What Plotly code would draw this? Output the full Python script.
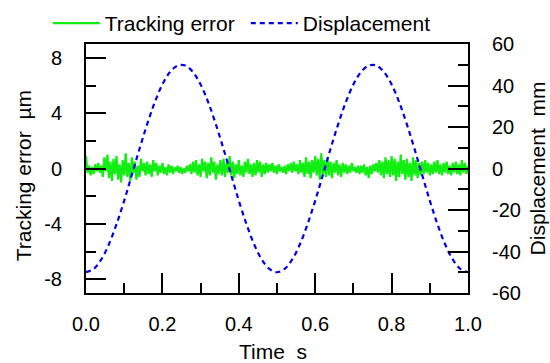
import plotly.graph_objects as go

# Time axis (s) for displacement curve
t_disp = [0.00, 0.02, 0.04, 0.06, 0.08, 0.10, 0.12, 0.14, 0.16, 0.18,
          0.20, 0.22, 0.24, 0.26, 0.28, 0.30, 0.32, 0.34, 0.36, 0.38,
          0.40, 0.42, 0.44, 0.46, 0.48, 0.50, 0.52, 0.54, 0.56, 0.58,
          0.60, 0.62, 0.64, 0.66, 0.68, 0.70, 0.72, 0.74, 0.76, 0.78,
          0.80, 0.82, 0.84, 0.86, 0.88, 0.90, 0.92, 0.94, 0.96, 0.98, 1.00]
# Displacement (mm)
displacement = [-50.0, -48.4, -43.8, -36.5, -26.8, -15.5, -3.1, 9.4, 21.3, 31.9,
                40.5, 46.5, 49.6, 49.6, 46.5, 40.5, 31.9, 21.3, 9.4, -3.1,
                -15.5, -26.8, -36.5, -43.8, -48.4, -50.0, -48.4, -43.8, -36.5, -26.8,
                -15.5, -3.1, 9.4, 21.3, 31.9, 40.5, 46.5, 49.6, 49.6, 46.5,
                40.5, 31.9, 21.3, 9.4, -3.1, -15.5, -26.8, -36.5, -43.8, -48.4, -50.0]

# Tracking error (um), read every 0.004 s
tracking_error = [
    0.9, -0.3, 0.2, -0.5, 0.1, -0.4, 0.3, -0.2, 0.4, -0.3,
    0.2, -0.6, 0.8, -0.2, 1.0, -0.7, 0.5, -0.9, 0.7, -0.4,
    0.9, -0.8, 0.3, -1.0, 0.6, -0.5, 1.1, -0.6, 0.4, -0.9,
    0.8, -0.3, 0.5, -0.8, 0.2, -0.6, 0.7, -0.2, 0.4, -0.5,
    0.5, -0.4, 0.3, -0.6, 0.6, -0.2, 0.4, -0.5, 0.2, -0.3,
    0.4, -0.4, 0.1, -0.5, 0.3, -0.3, 0.2, -0.4, 0.1, -0.2,
    0.2, -0.3, 0.1, -0.4, 0.0, -0.3, 0.2, -0.2, 0.3, -0.4,
    0.5, -0.3, 0.6, -0.5, 0.3, -0.6, 0.7, -0.2, 0.5, -0.7,
    0.4, -0.5, 0.8, -0.3, 0.5, -0.8, 0.3, -0.4, 0.6, -0.5,
    0.7, -0.6, 0.4, -0.3, 0.9, -0.5, 0.5, -0.7, 0.3, -0.4,
    0.6, -0.5, 0.2, -0.6, 0.5, -0.3, 0.7, -0.4, 0.3, -0.6,
    0.4, -0.5, 0.6, -0.3, 0.5, -0.6, 0.3, -0.4, 0.4, -0.3,
    0.3, -0.2, 0.4, -0.3, 0.2, -0.4, 0.3, -0.2, 0.1, -0.3,
    0.2, -0.4, 0.3, -0.2, 0.4, -0.3, 0.5, -0.2, 0.3, -0.4,
    0.6, -0.3, 0.4, -0.6, 0.8, -0.4, 0.5, -0.7, 0.6, -0.3,
    0.9, -0.5, 0.7, -0.8, 1.1, -0.4, 0.6, -0.6, 0.8, -0.5,
    0.5, -0.7, 0.4, -0.3, 0.6, -0.5, 0.3, -0.6, 0.4, -0.3,
    0.3, -0.4, 0.2, -0.3, 0.4, -0.2, 0.1, -0.3, 0.2, -0.4,
    0.2, -0.3, 0.3, -0.5, 0.1, -0.7, 0.2, -0.4, 0.3, -0.2,
    0.4, -0.3, 0.6, -0.5, 0.5, -0.7, 0.8, -0.4, 0.6, -0.6,
    0.9, -0.5, 0.7, -0.9, 0.5, -0.6, 1.0, -0.4, 0.6, -0.8,
    0.7, -0.6, 0.4, -0.9, 0.8, -0.5, 0.6, -0.7, 0.4, -0.5,
    0.5, -0.4, 0.6, -0.3, 0.4, -0.5, 0.3, -0.4, 0.5, -0.3,
    0.6, -0.4, 0.3, -0.5, 0.4, -0.3, 0.5, -0.4, 0.2, -0.5,
    0.4, -0.3, 0.5, -0.4, 0.3, -0.5, 0.6, -0.3, 0.4, -0.4,
    0.2]
t_err = [i * 0.004 for i in range(len(tracking_error))]

x_ticks = [0.0, 0.2, 0.4, 0.6, 0.8, 1.0]
x_ticklabels = ["0.0", "0.2", "0.4", "0.6", "0.8", "1.0"]
y1_ticks = [-8, -4, 0, 4, 8]
y1_ticklabels = ["-8", "-4", "0", "4", "8"]
y2_ticks = [-60, -40, -20, 0, 20, 40, 60]
y2_ticklabels = ["-60", "-40", "-20", "0", "20", "40", "60"]

x_title = "Time\u00a0 s"
y1_title = "Tracking error\u00a0 µm"
y2_title = "Displacement\u00a0 mm"

FONT = "Liberation Sans, Arial, sans-serif"

fig = go.Figure()
fig.add_trace(go.Scatter(x=t_err, y=tracking_error, mode="lines", name="Tracking error",
                         line=dict(color="#11ee11", width=2.2), yaxis="y"))
fig.add_trace(go.Scatter(x=t_disp, y=displacement, mode="lines", name="Displacement",
                         line=dict(color="#0000ee", width=2.2, dash="5px,4px", shape="spline"),
                         yaxis="y2"))

axis_common = dict(showline=True, linecolor="black", linewidth=2, ticks="inside",
                   tickcolor="black", tickwidth=2, ticklen=20, showgrid=False, zeroline=False,
                   tickfont=dict(family=FONT, size=20, color="black"))

fig.update_layout(
    width=550, height=363,
    margin=dict(l=86, r=82, t=44, b=70, autoexpand=False),
    paper_bgcolor="white", plot_bgcolor="white",
    font=dict(family=FONT, size=20, color="black"),
    showlegend=True,
    legend=dict(orientation="h", x=-0.1, xanchor="left", y=1.165, yanchor="top",
                font=dict(family=FONT, size=21, color="black"),
                bgcolor="rgba(0,0,0,0)", itemwidth=47, entrywidth=136, tracegroupgap=0),
    xaxis=dict(range=[0, 1], tickvals=x_ticks, ticktext=x_ticklabels, mirror=True,
               minor=dict(dtick=0.1, ticklen=10, ticks="inside", tickcolor="black", tickwidth=2),
               ticklabelstandoff=12,
               **axis_common),
    yaxis=dict(range=[-9, 9], tickvals=y1_ticks, ticktext=y1_ticklabels,
               minor=dict(dtick=2, ticklen=10, ticks="inside", tickcolor="black", tickwidth=2),
               ticklabelstandoff=18,
               **axis_common),
    yaxis2=dict(range=[-60, 60], tickvals=y2_ticks, ticktext=y2_ticklabels,
                overlaying="y", side="right",
                minor=dict(dtick=10, ticklen=10, ticks="inside", tickcolor="black", tickwidth=2),
                ticklabelstandoff=18,
                **axis_common),
    annotations=[
        dict(text=x_title, xref="paper", yref="paper", x=0.49, y=-0.235,
             xanchor="center", yanchor="middle", showarrow=False,
             font=dict(family=FONT, size=21, color="black")),
        dict(text=y1_title, xref="paper", yref="paper", x=-0.163, y=0.472,
             xanchor="center", yanchor="middle", showarrow=False, textangle=-90,
             font=dict(family=FONT, size=21, color="black")),
        dict(text=y2_title, xref="paper", yref="paper", x=1.183, y=0.5,
             xanchor="center", yanchor="middle", showarrow=False, textangle=-90,
             font=dict(family=FONT, size=21, color="black")),
    ],
)

fig.write_html("out.html")
